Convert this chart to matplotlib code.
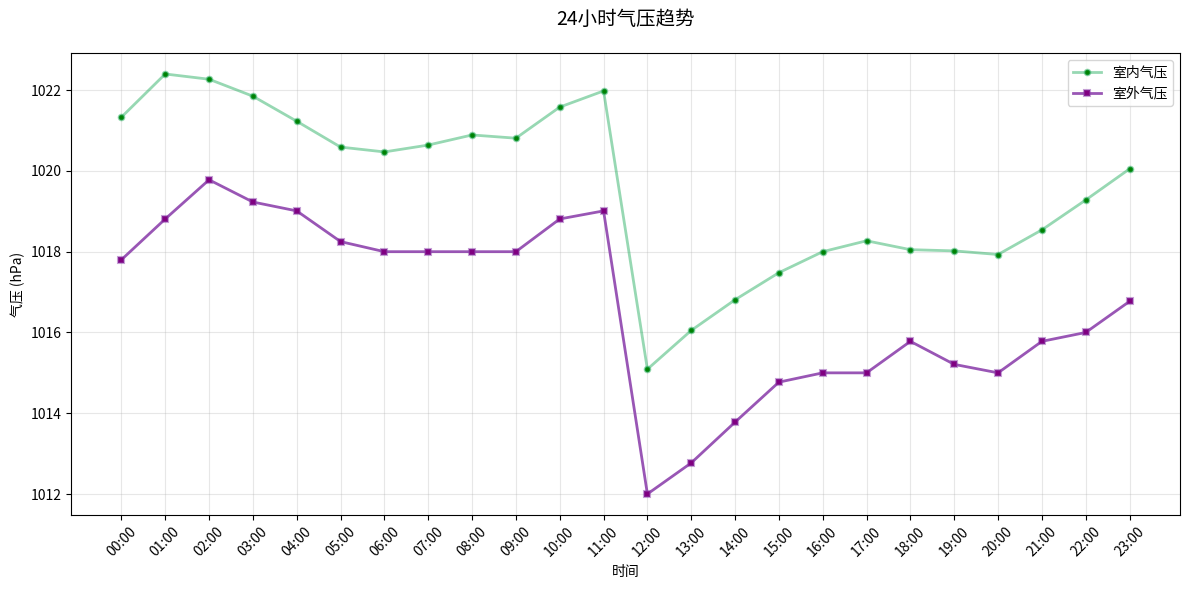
import matplotlib
matplotlib.use("Agg")
import matplotlib.pyplot as plt

plt.rcParams['font.family'] = ['Noto Sans CJK SC', 'DejaVu Sans']
plt.rcParams['axes.unicode_minus'] = False

hours = [f"{h:02d}:00" for h in range(24)]
indoor = [1021.33, 1022.40, 1022.27, 1021.85, 1021.23, 1020.59, 1020.47, 1020.64,
          1020.89, 1020.81, 1021.58, 1021.98, 1015.09, 1016.05, 1016.81, 1017.48,
          1018.00, 1018.27, 1018.05, 1018.02, 1017.93, 1018.54, 1019.28, 1020.05]
outdoor = [1017.80, 1018.81, 1019.78, 1019.23, 1019.01, 1018.25, 1018.00, 1018.00,
           1018.00, 1018.00, 1018.81, 1019.01, 1012.00, 1012.77, 1013.78, 1014.77,
           1015.00, 1015.00, 1015.78, 1015.21, 1015.00, 1015.78, 1016.00, 1016.77]

fig, ax = plt.subplots(figsize=(11.89, 5.9), dpi=100)
fig.subplots_adjust(left=0.0597, right=0.9924, top=0.9102, bottom=0.1271)
x = list(range(len(hours)))
green = (0.153, 0.682, 0.376, 0.48)
purple = (0.557, 0.267, 0.678, 0.9)
ax.plot(x, indoor, color=green, linewidth=2, marker='o',
        markersize=4, markerfacecolor='green', markeredgecolor=green,
        markeredgewidth=1.5, label='室内气压')
ax.plot(x, outdoor, color=purple, linewidth=2, marker='s',
        markersize=5, markerfacecolor='purple', markeredgecolor=(0.557, 0.267, 0.678, 0.5),
        markeredgewidth=1.5, label='室外气压')
ax.set_xticks(x)
ax.set_xticklabels(hours, rotation=45)
ax.set_xlabel('时间')
ax.set_ylabel('气压 (hPa)')
ax.set_title('24小时气压趋势', fontsize=14, pad=20)
ax.grid(True, alpha=0.3)
ax.legend(loc='upper right')
fig.savefig('out.png', dpi=100)
